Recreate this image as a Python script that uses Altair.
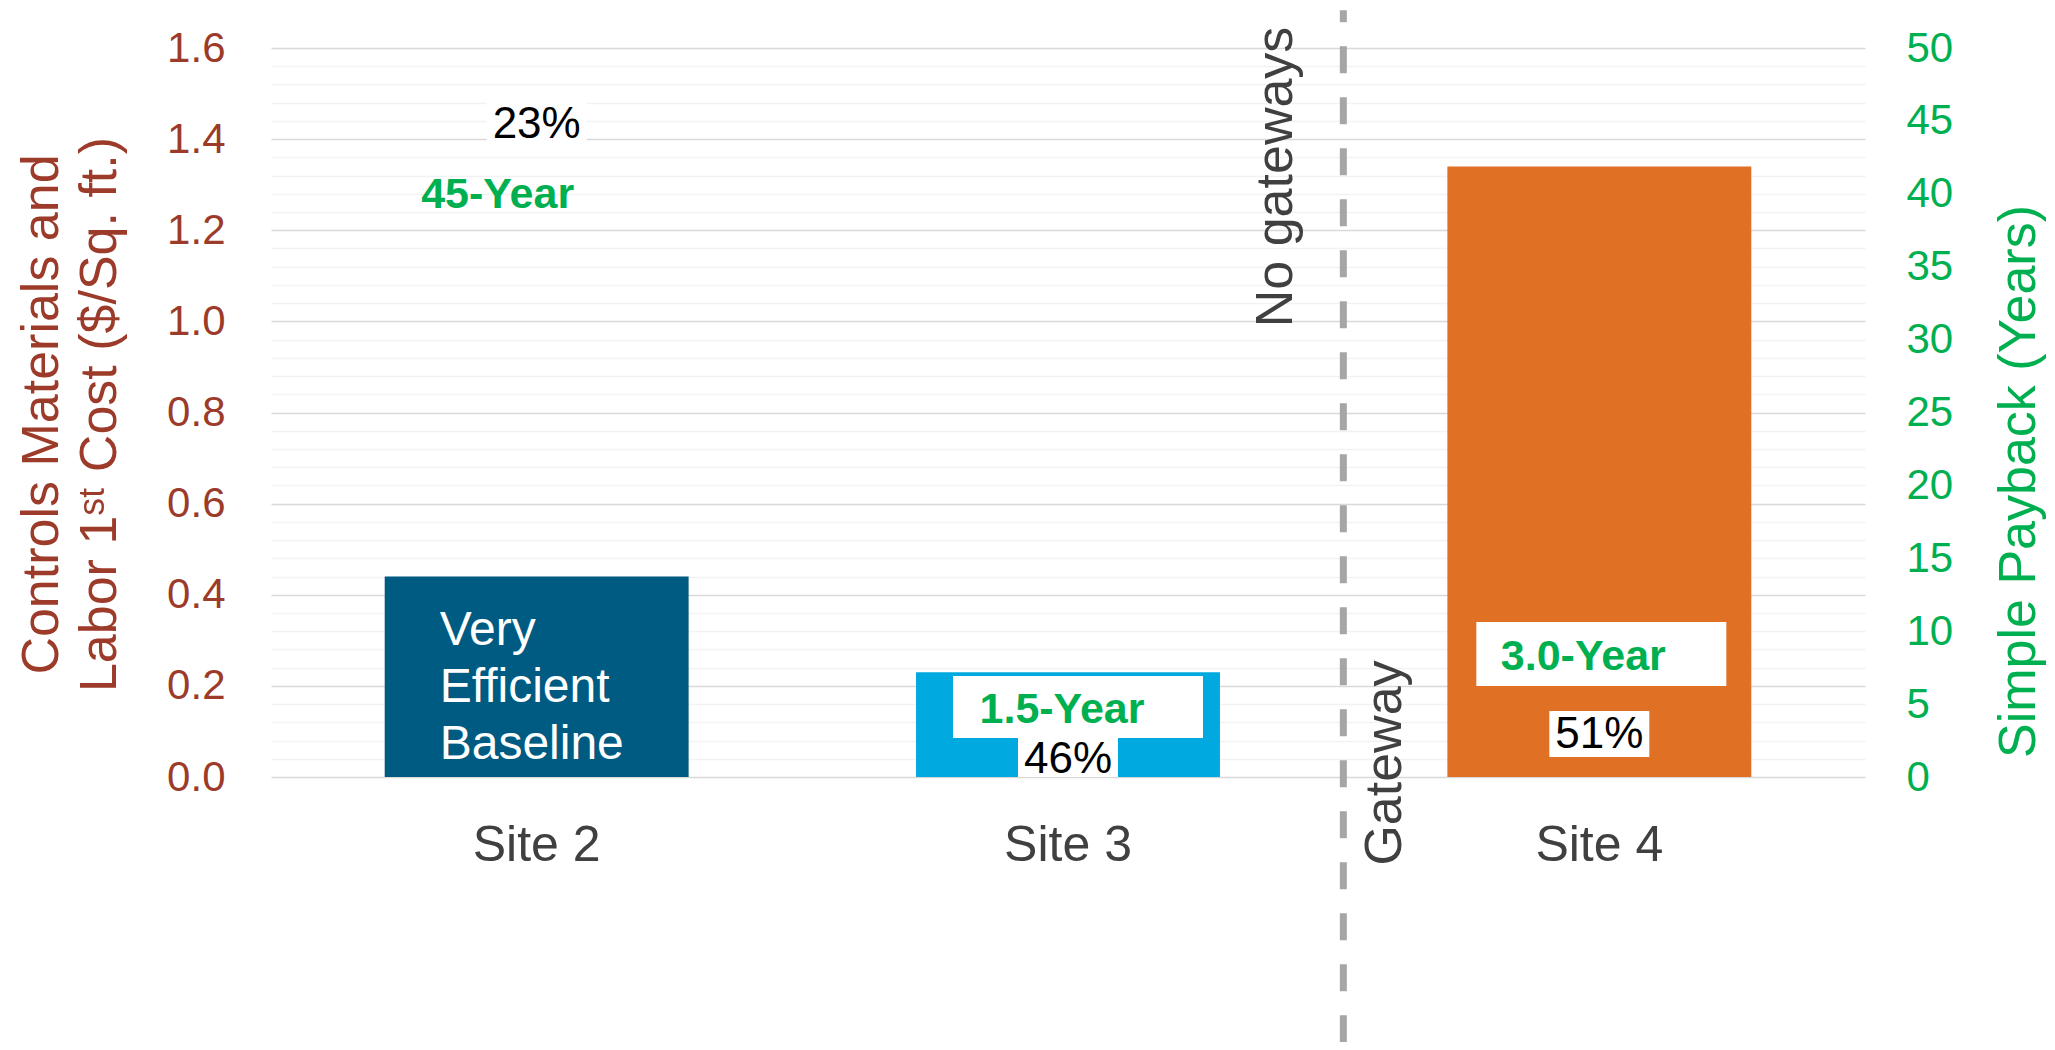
import altair as alt
import pandas as pd

# ---------------- data ----------------
sites = ["Site 2", "Site 3", "Site 4"]
cost = [0.44, 0.23, 1.34]                 # Controls materials and labor 1st cost ($/sq.ft.)
payback_years = [45, 1.5, 3.0]             # simple payback (years)
payback_labels = ["45-Year", "1.5-Year", "3.0-Year"]
savings_labels = ["23%", "46%", "51%"]
bar_colors = ["#005B82", "#00A9E0", "#E07024"]
right_ticks = [0, 5, 10, 15, 20, 25, 30, 35, 40, 45, 50]

# ---------------- styles / layout ----------------
BROWN = "#9C3B2A"
GREEN = "#00B050"
GREY_TXT = "#404040"
FONT = "Liberation Sans"

# annotation placement, expressed in left-axis units
pct_y = [1.431, 0.037, 0.092]
pct_box = [(1.394, 1.484), (0.0, 0.0856), (0.044, 0.145)]
pay_y = [1.277, 0.147, 0.263]
pay_dx = [-39, -6, -16]
pay_box = {"Site 3": ((0.0856, 0.2217), 10), "Site 4": ((0.200, 0.340), 2)}
xlabel_y = -0.151   # category labels sit below the plot area

df = pd.DataFrame({"site": sites, "cost": cost, "payback": payback_years})
ann = pd.DataFrame({
    "site": sites,
    "pct": savings_labels,
    "pct_y": pct_y,
    "pct_y0": [b[0] for b in pct_box],
    "pct_y1": [b[1] for b in pct_box],
    "pay": payback_labels,
    "pay_y": pay_y,
    "lab_y": [xlabel_y] * len(sites),
})

x_scale = alt.Scale(domain=sites, paddingInner=0.428, paddingOuter=0.214)


def y_scale():
    return alt.Scale(domain=[0, 1.6], nice=False, zero=True)


minor_vals = [round(i * 0.04, 2) for i in range(41)]
major_test = "abs(datum.value*5 - round(datum.value*5)) < 0.001"

y_axis = alt.Axis(
    values=minor_vals,
    labelExpr=f"{major_test} ? format(datum.value, '.1f') : ''",
    labelOverlap=False,
    gridColor={"condition": {"test": major_test, "value": "#D9D9D9"}, "value": "#F2F2F2"},
    gridWidth=1.5,
    domain=False,
    ticks=False,
    labelFont=FONT,
    labelFontSize=42,
    labelColor=BROWN,
    labelPadding=46,
    title=["Controls Materials and", "Labor 1ˢᵗ Cost ($/Sq. ft.)"],
    titleFont=FONT,
    titleFontSize=52,
    titleFontWeight="normal",
    titleColor=BROWN,
    titleLineHeight=58,
    titleAngle=270,
    titleBaseline="alphabetic",
    titleAlign="center",
    titleX=-214,
    titleY=366,
)

right_axis = alt.Axis(
    orient="right",
    values=right_ticks,
    grid=False,
    domain=False,
    ticks=False,
    labelFont=FONT,
    labelFontSize=42,
    labelColor=GREEN,
    labelPadding=41,
    labelAlign="left",
    title="Simple Payback (Years)",
    titleFont=FONT,
    titleFontSize=52,
    titleFontWeight="normal",
    titleColor=GREEN,
    titleAngle=270,
    titleBaseline="alphabetic",
    titleAlign="center",
    titleX=169,
    titleY=433,
)


def xenc():
    return alt.X("site:N", scale=x_scale, axis=None)


def yenc(field):
    return alt.Y(field, scale=y_scale(), axis=None)


bars = alt.Chart(df).mark_bar().encode(
    x=xenc(),
    y=alt.Y("cost:Q", scale=y_scale(), axis=y_axis),
    color=alt.Color("site:N", scale=alt.Scale(domain=sites, range=bar_colors), legend=None),
)

# category (x axis) labels
cat_labels = alt.Chart(ann).mark_text(
    font=FONT, fontSize=50, color=GREY_TXT, baseline="middle", align="center"
).encode(x=xenc(), y=yenc("lab_y:Q"), text="site:N")

pct_boxes = alt.Chart(ann).mark_bar(size=100, color="white").encode(
    x=xenc(), y=yenc("pct_y0:Q"), y2="pct_y1:Q",
)
pct_text = alt.Chart(ann).mark_text(
    font=FONT, fontSize=44, color="black", baseline="middle", align="center"
).encode(x=xenc(), y=yenc("pct_y:Q"), text="pct:N")

layers = [bars, cat_labels, pct_boxes, pct_text]

for site, ((b0, b1), dx) in pay_box.items():
    box_df = pd.DataFrame({"site": [site], "b0": [b0], "b1": [b1]})
    layers.append(
        alt.Chart(box_df).mark_bar(size=250, color="white", xOffset=dx).encode(
            x=xenc(), y=yenc("b0:Q"), y2="b1:Q"
        )
    )

for i, site in enumerate(sites):
    layers.append(
        alt.Chart(ann[ann.site == site]).mark_text(
            font=FONT, fontSize=43, fontWeight="bold", color=GREEN,
            baseline="middle", align="center", xOffset=pay_dx[i],
        ).encode(x=xenc(), y=yenc("pay_y:Q"), text="pay:N")
    )

baseline_txt = alt.Chart(pd.DataFrame({"site": ["Site 2"], "ty": [0.2897]})).mark_text(
    font=FONT, fontSize=48, color="white", align="left", baseline="alphabetic",
    lineHeight=57, xOffset=-97, text=["Very", "Efficient", "Baseline"],
).encode(x=xenc(), y=yenc("ty:Q"))
layers.append(baseline_txt)

sep = alt.Chart(pd.DataFrame({"site": ["Site 4"], "top": [1.683], "bottom": [-0.6]})).mark_rule(
    color="#A6A6A6", strokeWidth=7, strokeDash=[27, 24], strokeDashOffset=15, xOffset=-256
).encode(x=xenc(), y=yenc("top:Q"), y2="bottom:Q")
layers.append(sep)

no_gw = alt.Chart(pd.DataFrame({"site": ["Site 4"], "ty": [1.317]})).mark_text(
    font=FONT, fontSize=52, color=GREY_TXT, angle=270, align="center",
    baseline="alphabetic", xOffset=-307, text="No gateways",
).encode(x=xenc(), y=yenc("ty:Q"))
gw = alt.Chart(pd.DataFrame({"site": ["Site 4"], "ty": [0.0307]})).mark_text(
    font=FONT, fontSize=52, color=GREY_TXT, angle=270, align="center",
    baseline="alphabetic", xOffset=-198, text="Gateway",
).encode(x=xenc(), y=yenc("ty:Q"))
layers += [no_gw, gw]

right_layer = alt.Chart(df).mark_point(opacity=0).encode(
    x=xenc(),
    y=alt.Y("payback:Q", scale=alt.Scale(domain=[0, 50], nice=False), axis=right_axis),
)
layers.append(right_layer)

chart = (
    alt.layer(*layers)
    .resolve_scale(y="independent")
    .properties(
        width=1594,
        height=729,
        autosize=alt.AutoSizeParams(type="none"),
        padding={"left": 263, "top": 40, "right": 182, "bottom": 265},
    )
    .configure_view(stroke=None)
)

chart.save("out.html", embed_options={"renderer": "svg", "actions": False})
